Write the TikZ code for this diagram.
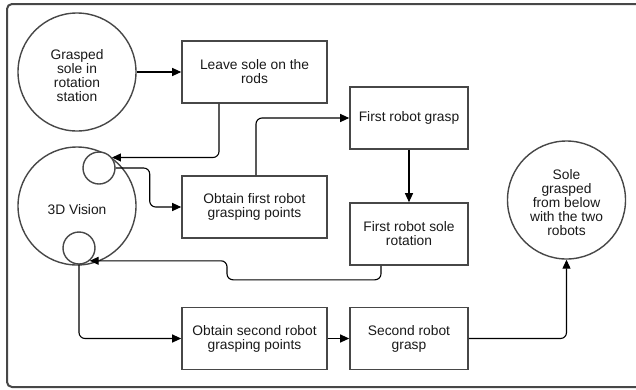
\documentclass[tikz,border=0pt]{standalone}
\usepackage{fontspec}
\setmainfont{Liberation Sans}
\usetikzlibrary{arrows.meta}
\begin{document}
\begin{tikzpicture}[x=1pt,y=-1pt,
  every node/.style={font=\fontsize{13.8}{14}\selectfont, text=black!90},
  stepbox/.style={draw=black!72, line width=1.6pt, minimum width=145pt,
    minimum height=62pt, align=center, inner sep=0pt},
  narrowbox/.style={stepbox, minimum width=118pt},
  bigcirc/.style={circle, draw=black!72, line width=1.4pt, minimum size=118pt,
    inner sep=0pt},
  smallcirc/.style={circle, draw=black!72, line width=1.4pt, fill=white,
    minimum size=32pt, inner sep=0pt},
  conn/.style={line width=1.1pt, rounded corners=6pt},
  arr/.style={conn, -{Triangle[length=9pt,width=8pt]}}
]
\useasboundingbox (0,0) rectangle (636,389);
\clip (0,0) rectangle (636,389);

% outer frame (runs past the right edge)
\draw[draw=black!72, line width=2pt, rounded corners=5pt] (7,4) rectangle (660,387);

% circles
\node[bigcirc, label={[yshift=-4pt, align=center]center:Grasped\\sole in\\rotation\\station}]
  (start) at (77,72) {};
\node[bigcirc, label={[yshift=-4pt]center:3D Vision}] (vision) at (77,206) {};
\node[smallcirc] (tops) at (99,168) {};
\node[smallcirc] (bots) at (79,248) {};
\node[bigcirc, label={[yshift=-3pt, align=center]center:Sole\\grasped\\from below\\with the two\\robots}]
  (final) at (566.5,200) {};

% process boxes
\node[stepbox] (leave) at (254.5,72) {Leave sole on the\\rods};
\node[stepbox] (firstpts) at (254.5,207) {Obtain first robot\\grasping points};
\node[narrowbox] (grasp1) at (409,118) {First robot grasp};
\node[narrowbox] (rotation) at (409,234) {First robot sole\\rotation};
\node[stepbox] (secondpts) at (254.5,338.5) {Obtain second robot\\grasping points};
\node[narrowbox] (grasp2) at (409,338.5) {Second robot\\grasp};

% connectors
\draw[arr] (start.east) -- (leave.west);
\draw[arr] ([xshift=-35.5pt]leave.south) |- (tops.39);
\draw[arr] (tops.east) -- ++(34,0) |- (firstpts.west);
\draw[arr] ([xshift=1.5pt]firstpts.north) |- (grasp1.west);
\draw[arr] (grasp1.south) -- (rotation.north);
\draw[arr] ([xshift=-28pt]rotation.south) -- ++(0,14) -- ++(-154,0) |- (bots.-50);
\draw[arr] (bots.south) |- (secondpts.west);
\draw[arr] (secondpts.east) -- (grasp2.west);
\draw[arr] (grasp2.east) -| (final.south);
\end{tikzpicture}
\end{document}
